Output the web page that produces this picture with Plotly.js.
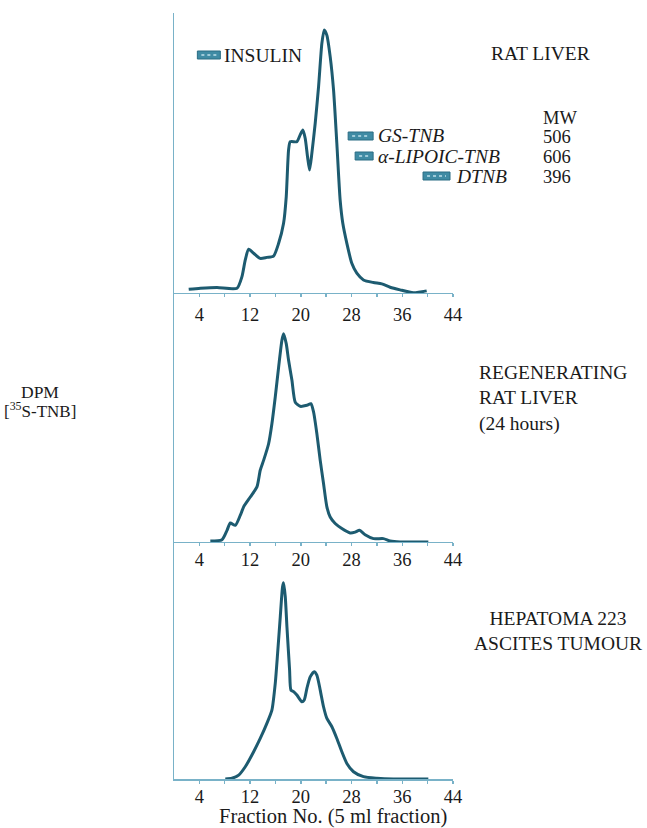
<!DOCTYPE html>
<html>
<head>
<meta charset="utf-8">
<script src="https://cdn.plot.ly/plotly-3.0.1.min.js"></script>
<style>html,body{margin:0;padding:0;background:#fff;}#chart{width:647px;height:828px;}</style>
</head>
<body>
<div id="chart"></div>
<script>
// Fraction number (x) and relative DPM [35S-TNB] (y) for each tissue
var ratLiverX = [2.32,4.16,6.78,9.93,10.72,11.24,11.77,12.56,13.6,14.65,15.7,16.5,17.28,17.7,18.07,18.33,19.38,19.9,20.32,20.69,21.06,21.38,21.74,22.27,22.8,23.32,23.69,24.1,24.63,25.16,25.68,26.2,26.62,27.26,28.04,28.83,29.88,31.46,32.77,34.08,35.65,37.76,39.85];
var ratLiverY = [1.4,1.8,2.1,1.8,6.3,12.7,16.8,15.3,13.3,13.7,14.2,19.1,26.8,37,55,58.2,58.2,60.8,62.7,59.5,52.4,47.3,53.7,65.3,79.4,96,101.2,99.2,90.9,78.1,57.6,35.8,26.8,19.1,11.4,7.6,5,4,3.5,2.2,1.2,0.1,0.8];

var regenX = [5.73,7.57,8.36,8.88,9.67,10.46,10.98,12.03,13.08,13.6,14.13,14.92,15.44,15.97,16.5,17.02,17.28,17.7,18.07,18.6,19.12,19.91,20.96,21.59,22.01,22.53,23.06,23.58,24.11,24.63,25.42,26.47,27.78,28.57,29.25,30.14,31.46,33.03,34.08,35.65,37.75,40.11];
var regenY = [0.4,0.9,4.5,7.3,6.4,10.3,13.5,17.3,21.2,27.6,31.4,37.8,45.5,55.8,67.3,77.6,80.1,76.3,69.9,62.2,53.8,52.2,52.6,53.2,50,41.7,31.4,22.5,13.5,9.6,7.1,5.2,3.5,3.8,4.5,2.8,1.3,1.3,0.4,0,0,0];

var hepatomaX = [8.09,9.14,10.2,11.24,12.56,13.6,14.65,15.44,15.97,16.34,16.76,17.12,17.28,17.55,17.81,18.23,18.44,18.86,19.38,20.17,20.54,20.96,21.48,22.11,22.53,23.06,23.58,24.11,24.9,25.68,26.47,27.26,28.31,29.88,31.98,34.6,36.7,40.11];
var hepatomaY = [0,0.3,1.5,4.7,10.5,15.6,21.4,26.5,36.8,48.3,62.4,74,75.5,70.1,58.6,41.9,34.2,33.6,32.3,29.7,30.4,34.9,39.3,41.3,40,34.2,27.8,23.3,20.1,15.6,10.5,6,2.8,0.9,0.3,0,0,0];

var tickVals = [4,12,20,28,36,44];
var tickText = ['4','12','20','28','36','44'];
var minorTickVals = [8,16,24,32,40];

var panelLabels = ['RAT LIVER', 'REGENERATING<br>RAT LIVER<br>(24 hours)', 'HEPATOMA 223<br>ASCITES TUMOUR'];
var markerNames = ['INSULIN', 'GS-TNB', '\u03b1-LIPOIC-TNB', 'DTNB'];
var mwValues = ['506', '606', '396'];

var lineColor = '#1d5b70';
var axisColor = '#79b2c8';
var serif = 'Liberation Serif, Times New Roman, serif';

function trace(x, y, xa, ya) {
  return {x: x, y: y, xaxis: xa, yaxis: ya, type: 'scatter', mode: 'lines',
    line: {color: lineColor, width: 3, shape: 'spline', smoothing: 0.6},
    hoverinfo: 'x+y', showlegend: false};
}

var data = [
  trace(ratLiverX, ratLiverY, 'x', 'y'),
  trace(regenX, regenY, 'x2', 'y2'),
  trace(hepatomaX, hepatomaY, 'x3', 'y3')
];

function xax(anchor, standoff) {
  return {anchor: anchor, domain: [0, 1], range: [0, 44], showline: true, linecolor: axisColor, linewidth: 1.5,
    showgrid: false, zeroline: false, tickmode: 'array', tickvals: tickVals, ticktext: tickText,
    ticks: 'outside', ticklen: 3, tickcolor: axisColor, tickwidth: 1.5,
    minor: {tickvals: minorTickVals, ticks: 'outside', ticklen: 3, tickcolor: axisColor, tickwidth: 1.5},
    ticklabelstandoff: standoff,
    tickfont: {family: serif, size: 18.5, color: '#1a1a1a'}, fixedrange: true};
}
function yax(anchor, domain, range) {
  return {anchor: anchor, domain: domain, range: range, showline: true, linecolor: axisColor, linewidth: 1.5,
    showgrid: false, zeroline: false, showticklabels: false, ticks: '', fixedrange: true};
}

function px2x(px) { return (px - 173.6) / 279.4; }
function px2y(py) { return (779 - py) / 766; }

var ann = [];
function label(text, xpx, ypx, opts) {
  var a = {text: text, xref: 'paper', yref: 'paper', x: px2x(xpx), y: px2y(ypx), showarrow: false,
    xanchor: 'left', yanchor: 'middle', font: {family: serif, size: 19.5, color: '#1a1a1a'}};
  for (var k in opts) a[k] = opts[k];
  ann.push(a);
}
var mwFont = {family: serif, size: 18.5, color: '#1a1a1a'};
label(markerNames[0], 222, 55, {});
label('<i>' + markerNames[1] + '</i>', 376, 136, {});
label('<i>' + markerNames[2] + '</i>', 376, 156, {});
label('<i>' + markerNames[3] + '</i>', 454, 176, {});
label('MW', 541, 118, {font: mwFont});
label(mwValues[0], 541, 137, {font: mwFont});
label(mwValues[1], 541, 157, {font: mwFont});
label(mwValues[2], 541, 177, {font: mwFont});
label(panelLabels[0], 489, 53, {});
label(panelLabels[1], 477, 398, {align: 'left'});
label(panelLabels[2], 558, 631, {xanchor: 'center', align: 'center'});
label('DPM', 39, 392, {xanchor: 'center', font: {family: serif, size: 17.5, color: '#1a1a1a'}});
label('[<sup>35</sup>S-TNB]', 39, 410, {xanchor: 'center', font: {family: serif, size: 17, color: '#1a1a1a'}});
label('Fraction No. (5 ml fraction)', 333, 816, {xanchor: 'center', font: {family: serif, size: 20.5, color: '#1a1a1a'}});

var shapes = [];
function chip(x0, x1, yc) {
  shapes.push({type: 'rect', xref: 'paper', yref: 'paper', x0: px2x(x0), x1: px2x(x1), y0: px2y(yc + 4), y1: px2y(yc - 4),
    fillcolor: '#3f8ba4', line: {color: '#2a6c83', width: 1}});
  shapes.push({type: 'line', xref: 'paper', yref: 'paper', x0: px2x(x0 + 4), x1: px2x(x1 - 4), y0: px2y(yc), y1: px2y(yc),
    line: {color: '#bfe0ea', width: 1.5, dash: 'dot'}});
}
chip(197, 220, 55);
chip(348, 373, 136);
chip(355, 373, 156);
chip(423, 450, 176);

var layout = {
  width: 647, height: 828,
  margin: {l: 173.6, r: 194, t: 13, b: 49},
  paper_bgcolor: '#ffffff', plot_bgcolor: '#ffffff',
  showlegend: false,
  xaxis: xax('y', 1),
  yaxis: yax('x', [0.6345, 1], [0, 107.7]),
  xaxis2: xax('y2', -3),
  yaxis2: yax('x2', [0.3094, 0.6345], [0, 95.8]),
  xaxis3: xax('y3', -3),
  yaxis3: yax('x3', [0, 0.3094], [0, 91.2]),
  annotations: ann,
  shapes: shapes
};

Plotly.newPlot('chart', data, layout, {displayModeBar: false, staticPlot: true});
</script>
</body>
</html>
